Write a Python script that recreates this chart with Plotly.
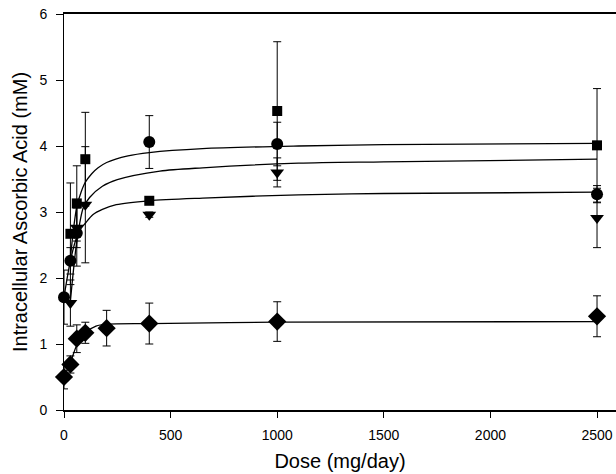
import plotly.graph_objects as go

# ---- data ----
circle_dose = [0, 30, 60, 400, 1000, 2500]
circle_val = [1.71, 2.26, 2.68, 4.06, 4.03, 3.27]
circle_err = [0.41, 0.20, 0.50, 0.40, 0.33, 0.13]

square_dose = [30, 60, 100, 400, 1000, 2500]
square_val = [2.67, 3.13, 3.80, 3.17, 4.53, 4.01]
square_err = [0.77, 0.57, 0.71, 0.04, 1.05, 0.86]

tri_dose = [30, 60, 100, 400, 1000, 2500]
tri_val = [1.62, 2.76, 3.11, 2.96, 3.60, 2.91]
tri_err = [0.35, 0.30, 0.88, 0.04, 0.22, 0.45]

dia_dose = [0, 30, 60, 100, 200, 400, 1000, 2500]
dia_val = [0.50, 0.69, 1.08, 1.17, 1.24, 1.31, 1.34, 1.42]
dia_err = [0.18, 0.13, 0.21, 0.16, 0.27, 0.31, 0.30, 0.31]

# fitted curves
fit_top_dose = [30, 45, 60, 80, 100, 130, 160, 200, 300, 400, 650, 1100, 1500, 2500]
fit_top_val = [2.30, 2.75, 3.08, 3.30, 3.45, 3.58, 3.67, 3.75, 3.85, 3.90, 3.96, 4.00, 4.02, 4.04]

fit_mid_dose = [30, 60, 90, 120, 180, 250, 450, 650, 1100, 1500, 2500]
fit_mid_val = [1.65, 2.55, 3.06, 3.22, 3.39, 3.49, 3.62, 3.67, 3.74, 3.76, 3.80]

fit_bot_dose = [0, 30, 60, 80, 100, 135, 180, 245, 400, 650, 1100, 1500, 2500]
fit_bot_val = [1.71, 2.26, 2.62, 2.75, 2.83, 2.96, 3.04, 3.11, 3.17, 3.21, 3.26, 3.28, 3.30]

fit_dia_dose = [0, 30, 60, 100, 150, 200, 400, 1000, 2500]
fit_dia_val = [0.50, 0.72, 0.98, 1.17, 1.27, 1.30, 1.31, 1.33, 1.34]

x_ticks = [0, 500, 1000, 1500, 2000, 2500]
y_ticks = [0, 1, 2, 3, 4, 5, 6]

fig = go.Figure()

for xs, ys in [(fit_top_dose, fit_top_val), (fit_mid_dose, fit_mid_val),
               (fit_bot_dose, fit_bot_val), (fit_dia_dose, fit_dia_val)]:
    fig.add_trace(go.Scatter(x=xs, y=ys, mode="lines",
                             line=dict(color="black", width=1.3, shape="spline", smoothing=0.8),
                             showlegend=False, hoverinfo="skip", cliponaxis=False))

def pts(xs, ys, es, symbol, size):
    fig.add_trace(go.Scatter(
        x=xs, y=ys, mode="markers",
        marker=dict(symbol=symbol, size=size, color="black", line=dict(width=0)),
        error_y=dict(type="data", array=es, visible=True, color="black", thickness=1, width=4),
        showlegend=False, cliponaxis=False))

pts(square_dose, square_val, square_err, "square", 10)
pts(tri_dose, tri_val, tri_err, "triangle-down", 12)
pts(circle_dose, circle_val, circle_err, "circle", 12)
pts(dia_dose, dia_val, dia_err, "diamond", 14)

fig.update_layout(
    width=616, height=474,
    margin=dict(l=64, r=0, t=14, b=64),
    paper_bgcolor="white", plot_bgcolor="white",
    font=dict(family="Liberation Sans, Arial, sans-serif", color="black"),
    xaxis=dict(range=[0, 2589], tickvals=x_ticks, ticks="outside", ticklen=6, tickwidth=1,
               tickcolor="black", showline=True, linecolor="black", linewidth=1.5,
               mirror=True, showgrid=False, zeroline=False, tickfont=dict(size=14),
               ticklabelstandoff=5,
               title=dict(text="Dose (mg/day)", font=dict(size=20), standoff=12)),
    yaxis=dict(range=[0, 6], tickvals=y_ticks, ticks="outside", ticklen=7, tickwidth=1,
               tickcolor="black", showline=True, linecolor="black", linewidth=1,
               showgrid=False, zeroline=False, tickfont=dict(size=14),
               ticklabelstandoff=6,
               title=dict(text="Intracellular Ascorbic Acid (mM)", font=dict(size=20), standoff=6)),
)

fig.write_html("out.html")
